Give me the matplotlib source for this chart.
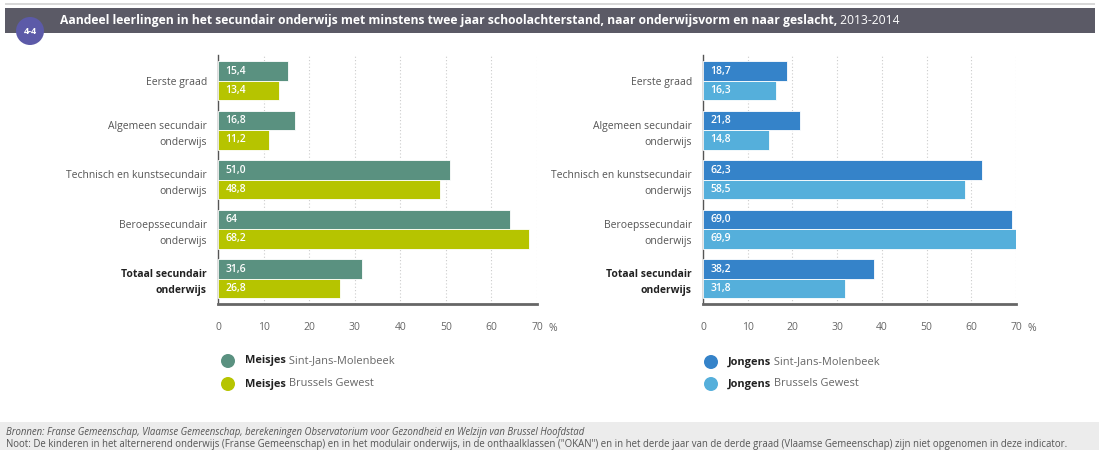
import numpy as np
import matplotlib
matplotlib.use("Agg")
import matplotlib.pyplot as plt
from matplotlib.patches import Rectangle, Circle

plt.rcParams["font.family"] = ["Open Sans", "DejaVu Sans"]

# -----------------------------
# Data
# -----------------------------
categories = [
    "Eerste graad",
    "Algemeen secundair\nonderwijs",
    "Technisch en kunstsecundair\nonderwijs",
    "Beroepssecundair\nonderwijs",
    "Totaal secundair\nonderwijs",
]
girls_sjm = [15.4, 16.8, 51.0, 64.0, 31.6]
girls_bru = [13.4, 11.2, 48.8, 68.2, 26.8]
boys_sjm = [18.7, 21.8, 62.3, 69.0, 38.2]
boys_bru = [16.3, 14.8, 58.5, 69.9, 31.8]
girls_sjm_lbl = ["15,4", "16,8", "51,0", "64", "31,6"]
girls_bru_lbl = ["13,4", "11,2", "48,8", "68,2", "26,8"]
boys_sjm_lbl = ["18,7", "21,8", "62,3", "69,0", "38,2"]
boys_bru_lbl = ["16,3", "14,8", "58,5", "69,9", "31,8"]
xticks = [0, 10, 20, 30, 40, 50, 60, 70]

title_bold = ("Aandeel leerlingen in het secundair onderwijs met minstens twee jaar "
              "schoolachterstand, naar onderwijsvorm en naar geslacht,")
title_norm = " 2013-2014"
source_txt = ("Bronnen: Franse Gemeenschap, Vlaamse Gemeenschap, berekeningen "
              "Observatorium voor Gezondheid en Welzijn van Brussel Hoofdstad")
note_txt = ("Noot: De kinderen in het alternerend onderwijs (Franse Gemeenschap) en in het "
            "modulair onderwijs, in de onthaalklassen (\"OKAN\") en in het derde jaar van de "
            "derde graad (Vlaamse Gemeenschap) zijn niet opgenomen in deze indicator.")

C_GIRL_SJM = "#5a9180"
C_GIRL_BRU = "#b6c400"
C_BOY_SJM = "#3583c9"
C_BOY_BRU = "#55afdb"

W, H = 1099, 450
fig = plt.figure(figsize=(W / 100, H / 100), dpi=100)
fig.patch.set_facecolor("white")

# overlay in pixel coords for decorations
bg = fig.add_axes([0, 0, 1, 1])
bg.set_xlim(0, W)
bg.set_ylim(H, 0)
bg.axis("off")
bg.set_zorder(0)


def chart(x0, x1, s1, s2, l1, l2, c1, c2):
    top, bot = 55, 304
    ax = fig.add_axes([x0 / W, 1 - bot / H, (x1 - x0) / W, (bot - top) / H])
    ax.patch.set_alpha(0)
    y = np.arange(len(categories))
    h = 0.39
    ax.barh(y - h / 2, s1, height=h, color=c1, edgecolor="white", linewidth=0.6, zorder=3)
    ax.barh(y + h / 2, s2, height=h, color=c2, edgecolor="white", linewidth=0.6, zorder=3)
    for i in range(len(categories)):
        ax.text(1.6, y[i] - h / 2, l1[i], color="white", fontsize=7.5,
                fontweight="semibold", va="center", ha="left", zorder=4)
        ax.text(1.6, y[i] + h / 2, l2[i], color="white", fontsize=7.5,
                fontweight="semibold", va="center", ha="left", zorder=4)
    ax.set_xlim(0, 70)
    ax.set_ylim(4.51, -0.52)
    ax.set_xticks(xticks)
    ax.set_xticklabels([str(t) for t in xticks], fontsize=7.5, color="#666666")
    ax.set_yticks(y)
    ax.set_yticklabels(categories, fontsize=7.5, color="#555555", linespacing=1.6)
    lab = ax.get_yticklabels()[-1]
    lab.set_fontweight("bold")
    lab.set_color("#222222")
    ax.tick_params(axis="both", length=0)
    ax.tick_params(axis="x", pad=13)
    ax.tick_params(axis="y", pad=8)
    for sp in ["top", "right"]:
        ax.spines[sp].set_visible(False)
    ax.spines["left"].set_color("#555555")
    ax.spines["left"].set_linewidth(1.0)
    ax.spines["bottom"].set_color("#666666")
    ax.spines["bottom"].set_linewidth(2.0)
    ax.set_axisbelow(True)
    ax.grid(axis="x", linestyle=(0, (1, 2)), color="#cccccc", linewidth=0.8)
    ax.text(1.05, -0.075, "%", transform=ax.transAxes, fontsize=7.5,
            color="#666666", ha="center", va="top")
    return ax


chart(218, 537, girls_sjm, girls_bru, girls_sjm_lbl, girls_bru_lbl, C_GIRL_SJM, C_GIRL_BRU)
chart(703, 1016, boys_sjm, boys_bru, boys_sjm_lbl, boys_bru_lbl, C_BOY_SJM, C_BOY_BRU)

# title band
bg.add_patch(Rectangle((5, 3), 1090, 2, color="#d8d8d8", lw=0))
bg.add_patch(Rectangle((5, 8), 1090, 25, color="#5b5a66", lw=0))
bg.add_patch(Circle((30, 31), 14, color="#5c5aa8", lw=0, zorder=3))
bg.text(30, 31, "4-4", color="white", fontsize=6.5, fontweight="bold",
        ha="center", va="center", zorder=4)

fig.canvas.draw()
rend = fig.canvas.get_renderer()


def two_part(x, y, bold, norm, size, color, ncolor=None):
    t = bg.text(x, y, bold, fontsize=size, fontweight="bold", color=color,
                ha="left", va="center")
    bb = t.get_window_extent(renderer=rend)
    bg.text(x + bb.width, y, norm, fontsize=size, color=ncolor or color,
            ha="left", va="center")


two_part(60, 20.5, title_bold, title_norm, 8.75, "white")

# legends
legends = [
    (228, C_GIRL_SJM, "Meisjes", " Sint-Jans-Molenbeek", 361),
    (228, C_GIRL_BRU, "Meisjes", " Brussels Gewest", 384),
    (711, C_BOY_SJM, "Jongens", " Sint-Jans-Molenbeek", 362),
    (711, C_BOY_BRU, "Jongens", " Brussels Gewest", 384),
]
for x, c, b, n, y in legends:
    bg.add_patch(Circle((x, y), 7, color=c, lw=0))
    two_part(x + 17, y, b, n, 7.9, "#222222", "#666666")

# footer
bg.add_patch(Rectangle((0, 422), W, 28, color="#ececec", lw=0))
bg.text(6, 432, source_txt, fontsize=6.9, style="italic", color="#555555",
        ha="left", va="center")
bg.text(6, 444, note_txt, fontsize=6.9, color="#555555", ha="left", va="center")

fig.savefig("out.png", dpi=100)
plt.close(fig)
